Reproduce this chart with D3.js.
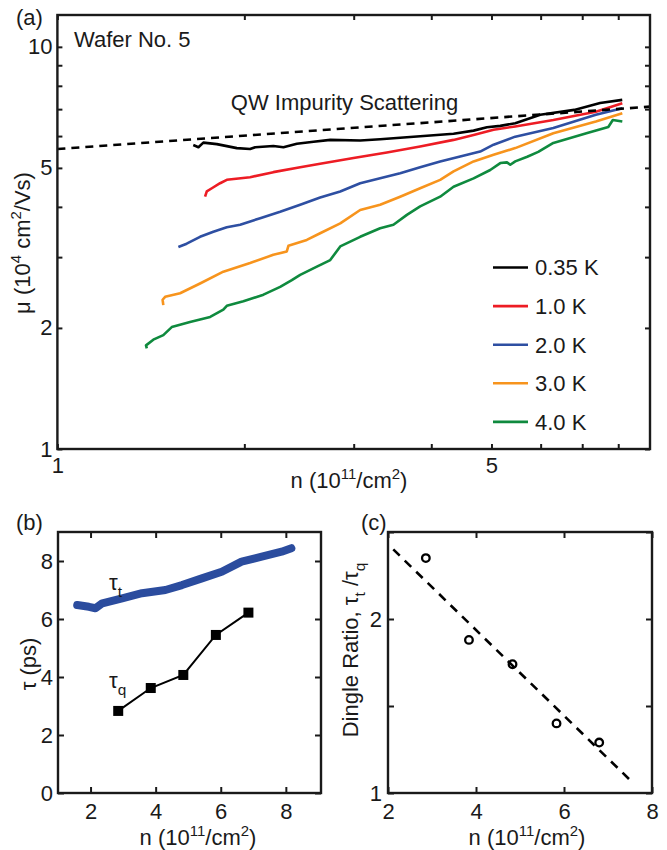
<!DOCTYPE html>
<html>
<head>
<meta charset="utf-8">
<script src="https://cdn.jsdelivr.net/npm/d3@7/dist/d3.min.js"></script>
<style>
  body { margin: 0; background: #fff; }
  text { font-family: "Liberation Sans", Arial, Helvetica, sans-serif; fill: #1a1a1a; }
</style>
</head>
<body>
<div id="chart"></div>
<script>
// ---- panel (a): mobility vs density (log-log), [n, mu] pairs ----
var tempLabels = ['0.35 K', '1.0 K', '2.0 K', '3.0 K', '4.0 K'];
var mu035 = [[1.655,5.70],[1.687,5.63],[1.718,5.78],[1.806,5.73],[1.945,5.60],[2.043,5.57],[2.082,5.63],[2.227,5.67],[2.312,5.63],[2.430,5.74],[2.585,5.81],[2.750,5.87],[3.073,5.85],[3.309,5.89],[3.608,5.95],[3.936,6.01],[4.344,6.08],[4.679,6.19],[4.917,6.31],[5.166,6.36],[5.461,6.46],[5.991,6.78],[6.797,6.97],[7.48,7.25],[8.12,7.38]];
var mu10 = [[1.729,4.24],[1.740,4.37],[1.773,4.45],[1.828,4.58],[1.874,4.67],[2.043,4.74],[2.227,4.88],[2.460,5.02],[2.649,5.12],[2.998,5.29],[3.393,5.46],[3.838,5.65],[4.344,5.87],[4.679,6.04],[5.039,6.22],[5.461,6.34],[6.289,6.58],[7.363,6.90],[8.122,7.24]];
var mu20 = [[1.566,3.18],[1.615,3.24],[1.697,3.37],[1.783,3.47],[1.874,3.56],[1.969,3.61],[2.121,3.75],[2.284,3.89],[2.460,4.05],[2.649,4.22],[2.854,4.37],[3.073,4.58],[3.309,4.71],[3.564,4.85],[3.838,5.02],[4.134,5.19],[4.452,5.34],[4.795,5.49],[5.039,5.71],[5.461,5.98],[6.289,6.28],[7.363,6.78],[8.122,7.04]];
var mu30 = [[1.481,2.28],[1.477,2.35],[1.491,2.39],[1.576,2.44],[1.697,2.58],[1.850,2.76],[2.043,2.90],[2.227,3.04],[2.341,3.10],[2.355,3.20],[2.521,3.31],[2.649,3.44],[2.854,3.64],[3.073,3.93],[3.309,4.05],[3.564,4.24],[3.838,4.45],[4.134,4.67],[4.344,4.90],[4.679,5.19],[5.039,5.39],[5.461,5.60],[6.289,6.10],[7.363,6.52],[8.122,6.84]];
var mu40 = [[1.393,1.78],[1.389,1.81],[1.427,1.87],[1.481,1.92],[1.528,2.01],[1.635,2.07],[1.762,2.13],[1.850,2.22],[1.874,2.27],[1.993,2.33],[2.147,2.42],[2.284,2.53],[2.385,2.63],[2.460,2.71],[2.617,2.84],[2.750,2.95],[2.854,3.19],[3.073,3.37],[3.309,3.54],[3.476,3.61],[3.654,3.82],[3.838,4.01],[4.134,4.24],[4.344,4.49],[4.679,4.71],[4.977,4.94],[5.166,5.14],[5.296,5.16],[5.361,5.09],[5.461,5.19],[5.709,5.33],[5.947,5.48],[6.289,5.77],[7.133,6.11],[7.711,6.32],[7.841,6.58],[8.122,6.52]];
var impurityFit = [[1, 5.57], [9, 7.10]];
var muTicks = [1, 2, 3, 4, 5, 6, 7, 8, 9, 10];
var muLabels = [1, 2, 5, 10];
var nTicksA = [1, 2, 3, 4, 5, 6, 7, 8];
var nLabelsA = [1, 5];

// ---- panel (b): scattering times ----
var nTauT = [1.59, 1.95, 2.15, 2.36, 2.97, 3.58, 4.30, 4.81, 5.42, 6.03, 6.64, 7.26, 7.87, 8.17];
var tauT  = [6.48, 6.42, 6.37, 6.54, 6.71, 6.89, 7.00, 7.17, 7.40, 7.63, 7.98, 8.15, 8.32, 8.44];
var nTauQ = [2.85, 3.85, 4.85, 5.85, 6.85];
var tauQ  = [2.83, 3.62, 4.07, 5.45, 6.22];
var tauTicks = [0, 2, 4, 6, 8];
var nTicksB = [2, 4, 6, 8];

// ---- panel (c): Dingle ratio ----
var nDingle = [2.86, 3.84, 4.83, 5.83, 6.80];
var dingle  = [2.35, 1.88, 1.74, 1.40, 1.29];
var dingleFit = [[2.12, 2.40], [7.5, 1.075]];
var ratioTicks = [1, 1.5, 2, 2.5];
var ratioLabels = [1, 2];
var nTicksC = [2, 4, 6, 8];

var colors = ['#000000', '#ed1c24', '#2e4fa2', '#f7941d', '#0f8a3e'];
var FS = 22;

var svg = d3.select('#chart').append('svg')
    .attr('width', 667).attr('height', 850);

// text with super/subscript pieces: strings or {sup:..} / {sub:..}
function rich(parent, parts, fs) {
    var t = parent.append('text').attr('font-size', fs);
    var cur = 0;
    parts.forEach(function(p) {
        var s = t.append('tspan'), target = 0, size = fs;
        if (typeof p === 'string') {
            s.text(p);
        } else if (p.sup) {
            target = -0.4 * fs; size = fs * 0.68; s.text(p.sup);
        } else {
            target = 0.32 * fs; size = fs * 0.7; s.text(p.sub);
        }
        s.attr('font-size', size).attr('dy', target - cur);
        cur = target;
    });
    return t;
}

function fmt(labels) {
    return function(d) { return labels.indexOf(d) >= 0 ? d : ''; };
}

// frame + inward ticks on all four sides
function axes(x, y, xt, xl, yt, yl, tick, padX, padY) {
    var r = x.range(), b = y.range();
    var g = svg.append('g');
    g.append('g').attr('transform', 'translate(0,' + b[0] + ')')
        .call(d3.axisBottom(x).tickValues(xt).tickSize(-tick).tickPadding(padX).tickFormat(fmt(xl)));
    g.append('g').attr('transform', 'translate(0,' + b[1] + ')')
        .call(d3.axisTop(x).tickValues(xt).tickSize(-tick).tickFormat(''));
    g.append('g').attr('transform', 'translate(' + r[0] + ',0)')
        .call(d3.axisLeft(y).tickValues(yt).tickSize(-tick).tickPadding(padY).tickFormat(fmt(yl)));
    g.append('g').attr('transform', 'translate(' + r[1] + ',0)')
        .call(d3.axisRight(y).tickValues(yt).tickSize(-tick).tickFormat(''));
    g.selectAll('.domain').remove();
    g.selectAll('.tick line').attr('stroke', '#1a1a1a').attr('stroke-width', 2);
    g.selectAll('.tick text').attr('font-size', FS).attr('font-family', null).attr('fill', '#1a1a1a');
    g.append('rect')
        .attr('x', r[0]).attr('y', b[1])
        .attr('width', r[1] - r[0]).attr('height', b[0] - b[1])
        .attr('fill', 'none').attr('stroke', '#1a1a1a').attr('stroke-width', 2.4);
    return g;
}

// ===== panel (a) =====
var xA = d3.scaleLog().domain([1, 9]).range([57.4, 650]);
var yA = d3.scaleLog().domain([1, 12]).range([449, 15]);
var lineA = d3.line().x(function(d) { return xA(d[0]); }).y(function(d) { return yA(d[1]); });

var curves = [mu035, mu10, mu20, mu30, mu40];
svg.append('g').selectAll('path')
    .data(curves.slice().reverse())
    .enter().append('path')
    .attr('d', lineA)
    .attr('fill', 'none')
    .attr('stroke', function(d, i) { return colors[curves.length - 1 - i]; })
    .attr('stroke-width', 2.6)
    .attr('stroke-linejoin', 'round');

svg.append('path')
    .attr('d', lineA(impurityFit))
    .attr('fill', 'none').attr('stroke', '#000')
    .attr('stroke-width', 2.6).attr('stroke-dasharray', '8,6');

axes(xA, yA, nTicksA, nLabelsA, muTicks, muLabels, 5, 8, 5);

// legend
var leg = svg.append('g').selectAll('g')
    .data(tempLabels).enter().append('g')
    .attr('transform', function(d, i) { return 'translate(493,' + (267.5 + i * 38.6) + ')'; });
leg.append('line').attr('x1', 0).attr('x2', 35)
    .attr('stroke', function(d, i) { return colors[i]; }).attr('stroke-width', 2.6);
leg.append('text').attr('x', 42).attr('dy', '0.36em').attr('font-size', FS).text(function(d) { return d; });

svg.append('text').attr('x', 74).attr('y', 46.5).attr('font-size', FS).text('Wafer No. 5');
svg.append('text').attr('x', 344.5).attr('y', 110).attr('font-size', FS)
    .attr('text-anchor', 'middle').text('QW Impurity Scattering');
svg.append('text').attr('x', 16).attr('y', 25).attr('font-size', FS).text('(a)');

rich(svg, ['n (10', {sup: '11'}, '/cm', {sup: '2'}, ')'], FS)
    .attr('x', 349).attr('y', 488).attr('text-anchor', 'middle');
rich(svg, ['\u03bc (10', {sup: '4'}, ' cm', {sup: '2'}, '/Vs)'], FS)
    .attr('text-anchor', 'middle')
    .attr('transform', 'translate(30,243) rotate(-90)');

// ===== panel (b) =====
var xB = d3.scaleLinear().domain([1, 9.08]).range([58, 321]);
var yB = d3.scaleLinear().domain([0, 9]).range([793, 532]);

svg.append('path')
    .datum(nTauT.map(function(n, i) { return [n, tauT[i]]; }))
    .attr('d', d3.line().x(function(d) { return xB(d[0]); }).y(function(d) { return yB(d[1]); }))
    .attr('fill', 'none').attr('stroke', '#2b4c9e')
    .attr('stroke-width', 8).attr('stroke-linejoin', 'round').attr('stroke-linecap', 'round');

var qPts = nTauQ.map(function(n, i) { return [n, tauQ[i]]; });
svg.append('path')
    .datum(qPts)
    .attr('d', d3.line().x(function(d) { return xB(d[0]); }).y(function(d) { return yB(d[1]); }))
    .attr('fill', 'none').attr('stroke', '#000').attr('stroke-width', 2);
svg.append('g').selectAll('rect')
    .data(qPts).enter().append('rect')
    .attr('x', function(d) { return xB(d[0]) - 5; })
    .attr('y', function(d) { return yB(d[1]) - 5; })
    .attr('width', 10).attr('height', 10).attr('fill', '#000');

axes(xB, yB, nTicksB, nTicksB, tauTicks, tauTicks, 6, 10, 5);

rich(svg, ['\u03c4', {sub: 't'}], FS).attr('x', 109).attr('y', 590);
rich(svg, ['\u03c4', {sub: 'q'}], FS).attr('x', 109).attr('y', 688);
svg.append('text').attr('x', 16).attr('y', 530).attr('font-size', FS).text('(b)');
rich(svg, ['n (10', {sup: '11'}, '/cm', {sup: '2'}, ')'], FS)
    .attr('x', 198).attr('y', 845).attr('text-anchor', 'middle');
svg.append('text').attr('font-size', FS).attr('text-anchor', 'middle')
    .attr('transform', 'translate(36,664) rotate(-90)').text('\u03c4 (ps)');

// ===== panel (c) =====
var xC = d3.scaleLinear().domain([2, 8]).range([388, 652]);
var yC = d3.scaleLinear().domain([1, 2.5]).range([793, 532]);

svg.append('path')
    .attr('d', d3.line().x(function(d) { return xC(d[0]); }).y(function(d) { return yC(d[1]); })(dingleFit))
    .attr('fill', 'none').attr('stroke', '#000')
    .attr('stroke-width', 2.6).attr('stroke-dasharray', '9,7');

svg.append('g').selectAll('circle')
    .data(nDingle).enter().append('circle')
    .attr('cx', function(d) { return xC(d); })
    .attr('cy', function(d, i) { return yC(dingle[i]); })
    .attr('r', 3.8).attr('fill', 'none').attr('stroke', '#000').attr('stroke-width', 2.3);

axes(xC, yC, nTicksC, nTicksC, ratioTicks, ratioLabels, 6, 10, 6);

svg.append('text').attr('x', 361).attr('y', 530).attr('font-size', FS).text('(c)');
rich(svg, ['n (10', {sup: '11'}, '/cm', {sup: '2'}, ')'], FS)
    .attr('x', 527).attr('y', 845).attr('text-anchor', 'middle');
rich(svg, ['Dingle Ratio, \u03c4', {sub: 't'}, ' /\u03c4', {sub: 'q'}], FS)
    .attr('text-anchor', 'middle')
    .attr('transform', 'translate(358,650) rotate(-90)');
</script>
</body>
</html>
